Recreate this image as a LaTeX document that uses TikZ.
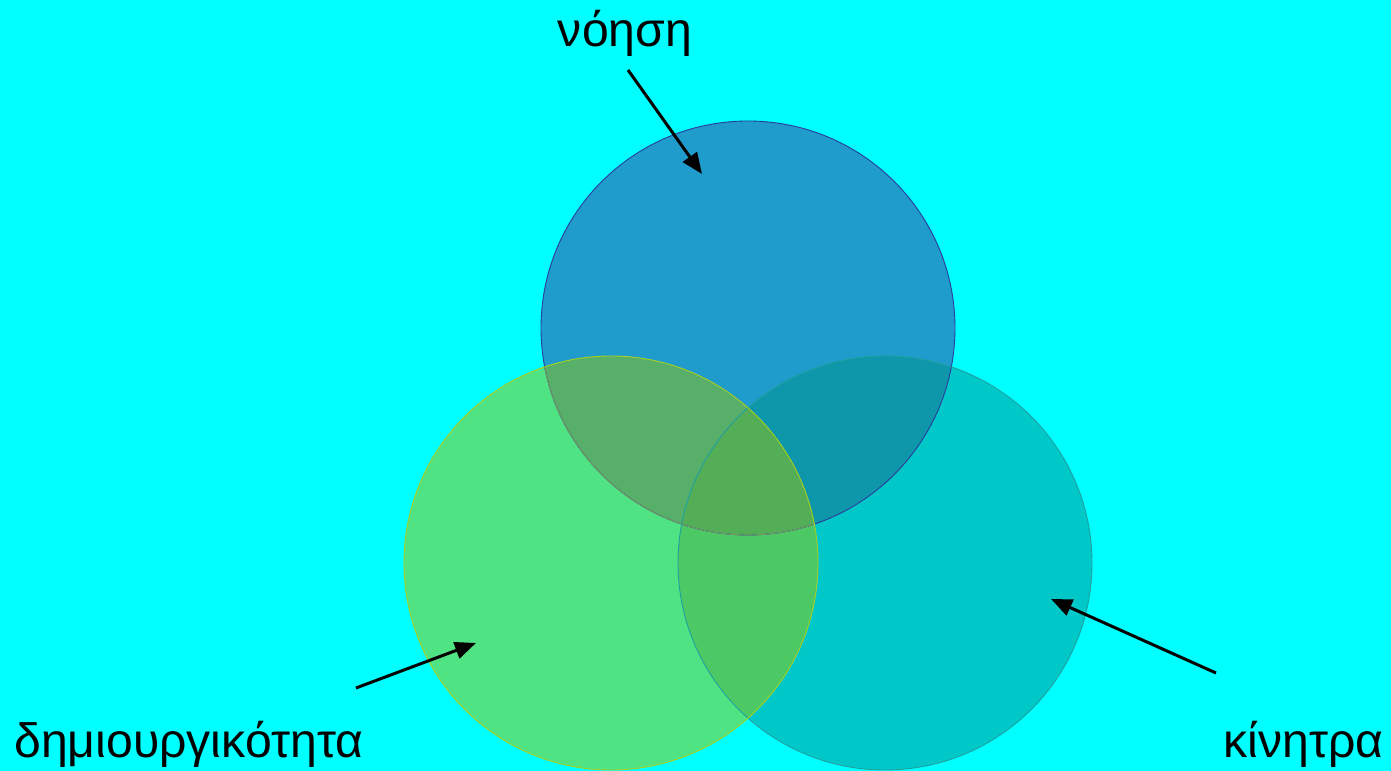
\documentclass[tikz,border=0pt]{standalone}
\usepackage{fontspec}
\setmainfont{Liberation Sans}
\usetikzlibrary{arrows.meta}

\definecolor{bgcyan}{HTML}{00FFFF}
\definecolor{noesifill}{HTML}{1F9BCC}
\definecolor{noesiline}{HTML}{2B3A9C}
\definecolor{dimfill}{HTML}{50E383}
\definecolor{dimline}{HTML}{A8D020}
\definecolor{kinfill}{HTML}{00C8C8}
\definecolor{kinline}{HTML}{20A0A0}
\definecolor{noesidim}{HTML}{57AF6A}
\definecolor{noesikin}{HTML}{0E97AA}
\definecolor{dimkin}{HTML}{4CC864}
\definecolor{allthree}{HTML}{54AD57}
\definecolor{dimedge}{HTML}{6E9A66}

\begin{document}
\begin{tikzpicture}[
    set/.style={circle, minimum size=8.28cm, inner sep=0pt},
    word/.style={font=\fontsize{27.4}{32}\selectfont, inner sep=0pt},
    arrow/.style={line width=1.7pt, -{Triangle[length=0.42cm, width=0.34cm]}, black}
]

\fill[bgcyan] (0,0) rectangle (27.82,15.42);
\useasboundingbox (0,0) rectangle (27.82,15.42);

% the three sets
\node[set, fill=noesifill] (c-noesi) at (14.96,8.86) {};
\node[set, fill=kinfill] (c-kin) at (17.70,4.16) {};
\node[set, fill=dimfill] (c-dim) at (12.22,4.16) {};

% overlaps
\begin{scope}
  \clip (c-noesi.center) circle (4.14cm);
  \fill[noesidim] (c-dim.center) circle (4.14cm);
  \fill[noesikin] (c-kin.center) circle (4.14cm);
\end{scope}
\begin{scope}
  \clip (c-dim.center) circle (4.14cm);
  \fill[dimkin] (c-kin.center) circle (4.14cm);
\end{scope}
\begin{scope}
  \clip (c-noesi.center) circle (4.14cm);
  \clip (c-dim.center) circle (4.14cm);
  \fill[allthree] (c-kin.center) circle (4.14cm);
\end{scope}

% outlines
\draw[noesiline, line width=0.5pt] (c-noesi.center) circle (4.14cm);
\begin{scope}
  \clip (c-dim.center) circle (4.14cm);
  \draw[dimedge, line width=0.6pt] (c-noesi.center) circle (4.14cm);
\end{scope}
\draw[kinline, line width=0.5pt] (c-kin.center) circle (4.14cm);
\draw[dimline, line width=0.5pt] (c-dim.center) circle (4.14cm);

% labels
\node[word, anchor=base] (t-noesi) at (12.50,14.48) {νόηση};
\node[word, anchor=base west] (t-dim) at (0.28,0.26) {δημιουργικότητα};
\node[word, anchor=base east] (t-kin) at (27.68,0.26) {κίνητρα};

\coordinate (noesi-tail) at (12.56,14.02);
\coordinate (noesi-tip) at (14.04,11.94);
\coordinate (dim-tail) at (7.12,1.66);
\coordinate (dim-tip) at (9.52,2.56);
\coordinate (kin-tail) at (24.32,1.96);
\coordinate (kin-tip) at (21.02,3.44);

\draw[arrow] (noesi-tail) -- (noesi-tip);
\draw[arrow] (dim-tail) -- (dim-tip);
\draw[arrow] (kin-tail) -- (kin-tip);

\end{tikzpicture}
\end{document}
